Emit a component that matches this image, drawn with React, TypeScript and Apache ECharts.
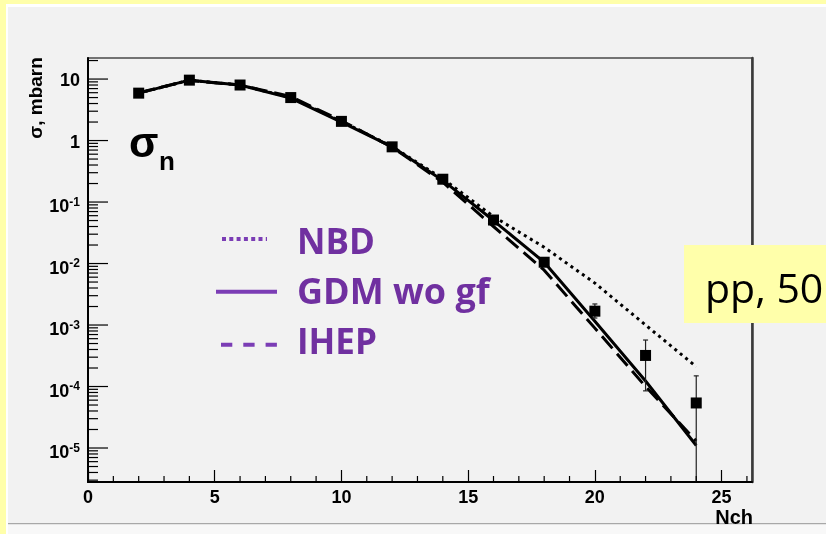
import React, { useEffect, useRef } from "react";
import * as echarts from "echarts";

// ---------- data ----------
const nchValues = [2, 4, 6, 8, 10, 12, 14, 16, 18, 20, 22, 24];
const sigmaMeasured = [5.9, 9.6, 8.0, 5.0, 2.05, 0.79, 0.235, 0.051, 0.0105, 0.00168, 0.00032, 0.000054];
const errorLow = [null, null, null, null, null, null, null, 0.046, 0.0092, 0.0013, 0.000085, 1e-9];
const errorHigh = [null, null, null, null, null, null, null, 0.056, 0.0118, 0.0022, 0.00057, 0.000149];
const nbdModel = [5.9, 9.6, 8.0, 5.0, 2.05, 0.8, 0.24, 0.058, 0.0184, 0.0048, 0.001, 0.00021];
const gdmModel = [5.9, 9.6, 8.0, 4.9, 2.0, 0.79, 0.225, 0.05, 0.0105, 0.00115, 0.000123, 0.000011];
const ihepModel = [6.0, 9.5, 8.0, 5.2, 2.1, 0.78, 0.21, 0.04, 0.0078, 0.00089, 0.0001, 0.000013];
const yLabelExponents = [-5, -4, -3, -2, -1, 0, 1];
const legendNames = ["NBD", "GDM wo gf", "IHEP"];
const yTitle = "σ, mbarn";
const xTitle = "Nch";
const plotLabelMain = "σ";
const plotLabelSub = "n";
const boxText = "pp, 50";

const X_MIN = 0;
const X_MAX = 26.2;
const Y_MIN = 2.8e-6;
const Y_MAX = 22;

const PURPLE_TEXT = "#7030A0";
const PURPLE_LINE = "#7B3DB5";
const FONT = "'Liberation Sans', Arial, sans-serif";

function buildTickData() {
  const out: number[][] = [];
  for (let v = 1; v <= 26; v++) {
    if (v % 5 !== 0 && v > X_MIN && v < X_MAX) out.push([v, Y_MIN, 0]);
  }
  for (let n = -6; n <= 1; n++) {
    for (let k = 1; k <= 9; k++) {
      const v = k * Math.pow(10, n);
      if (v >= Y_MIN && v <= Y_MAX) out.push([X_MIN, v, k === 1 ? 1 : 2]);
    }
  }
  return out;
}

const labelRich = {
  b: { fontFamily: FONT, fontWeight: "bold", fontSize: 18, color: "#000" },
  s: {
    fontFamily: FONT,
    fontWeight: "bold",
    fontSize: 12,
    color: "#000",
    verticalAlign: "bottom",
    padding: [0, 0, 9, 0],
  },
};

export default function App() {
  const ref = useRef<HTMLDivElement>(null);
  useEffect(() => {
    if (!ref.current) return;
    const chart = echarts.init(ref.current, undefined, { renderer: "svg" });

    const pairs = (arr: number[]) => nchValues.map((x, i) => [x, arr[i]]);
    const errData = nchValues
      .map((x, i) => [x, errorLow[i], errorHigh[i]])
      .filter((d) => d[1] != null);

    const option: any = {
      animation: false,
      backgroundColor: "transparent",
      grid: {
        left: 88,
        top: 58,
        right: 74,
        bottom: 52,
        show: true,
        borderColor: "#4a4a4a",
        borderWidth: 1.5,
        backgroundColor: "transparent",
      },
      xAxis: [
        {
          type: "value",
          min: X_MIN,
          max: X_MAX,
          interval: 5,
          splitLine: { show: false },
          axisLine: { onZero: false, lineStyle: { color: "#000", width: 2 } },
          axisTick: { inside: true, length: 12, lineStyle: { color: "#000", width: 1.2 } },
          minorTick: { show: false },
          axisLabel: {
            showMaxLabel: false,
            color: "#000",
            fontFamily: FONT,
            fontWeight: "bold",
            fontSize: 18,
            margin: 6,
          },
        },
      ],
      yAxis: [
        {
          type: "log",
          logBase: 10,
          min: Y_MIN,
          max: Y_MAX,
          splitLine: { show: false },
          axisLine: { lineStyle: { color: "#000", width: 2 } },
          axisTick: { show: false },
          minorTick: { show: false },
          axisLabel: { show: false },
        },
        {
          type: "value",
          position: "right",
          min: 0,
          max: 1,
          axisLine: { show: true, lineStyle: { color: "#3a3a3a", width: 2.5 } },
          axisTick: { show: false },
          axisLabel: { show: false },
          splitLine: { show: false },
        },
      ],
      series: [
        {
          name: legendNames[0],
          type: "line",
          data: pairs(nbdModel),
          symbol: "none",
          lineStyle: { color: "#000", width: 3, type: [3, 4] },
          z: 3,
        },
        {
          name: legendNames[1],
          type: "line",
          data: pairs(gdmModel),
          symbol: "none",
          lineStyle: { color: "#000", width: 3 },
          z: 3,
        },
        {
          name: legendNames[2],
          type: "line",
          data: pairs(ihepModel),
          symbol: "none",
          lineStyle: { color: "#000", width: 3, type: [16, 7] },
          z: 3,
        },
        {
          name: "errors",
          type: "custom",
          data: errData,
          encode: { x: 0, y: [1, 2] },
          z: 4,
          renderItem: (params: any, api: any) => {
            const x = api.value(0);
            const lo = api.coord([x, api.value(1)]);
            const hi = api.coord([x, api.value(2)]);
            const cs = params.coordSys;
            const bottom = cs.y + cs.height;
            const yLo = Math.min(lo[1], bottom);
            const st = { stroke: "#222", lineWidth: 1.2 };
            const children: any[] = [
              { type: "line", shape: { x1: hi[0], y1: hi[1], x2: hi[0], y2: yLo }, style: st },
              { type: "line", shape: { x1: hi[0] - 2.5, y1: hi[1], x2: hi[0] + 2.5, y2: hi[1] }, style: st },
            ];
            if (lo[1] < bottom) {
              children.push({ type: "line", shape: { x1: lo[0] - 2.5, y1: lo[1], x2: lo[0] + 2.5, y2: lo[1] }, style: st });
            }
            return { type: "group", children };
          },
        },
        {
          name: "data",
          type: "scatter",
          data: pairs(sigmaMeasured),
          symbol: "rect",
          symbolSize: 11,
          itemStyle: { color: "#000", opacity: 1 },
          z: 5,
        },
        {
          name: "ticks",
          type: "custom",
          data: buildTickData(),
          encode: { x: 0, y: 1 },
          silent: true,
          z: 6,
          renderItem: (params: any, api: any) => {
            const kind = api.value(2);
            const p = api.coord([api.value(0), api.value(1)]);
            if (kind === 0) {
              return { type: "line", shape: { x1: p[0], y1: p[1], x2: p[0], y2: p[1] - 6 }, style: { stroke: "#000", lineWidth: 1.2 } };
            }
            const len = kind === 1 ? 20 : 10;
            return { type: "line", shape: { x1: p[0], y1: p[1], x2: p[0] + len, y2: p[1] }, style: { stroke: "#000", lineWidth: 1.2 } };
          },
        },
        {
          name: "yLabels",
          type: "custom",
          data: yLabelExponents.map((e) => [X_MIN, Math.pow(10, e), e]),
          encode: { x: 0, y: 1 },
          silent: true,
          clip: false,
          z: 6,
          renderItem: (params: any, api: any) => {
            const e = api.value(2);
            const p = api.coord([api.value(0), api.value(1)]);
            let text: string;
            let dy = 1;
            if (e === 1) text = "{b|10}";
            else if (e === 0) text = "{b|1}";
            else {
              text = "{b|10}{s|" + e + "}";
              dy = 4;
            }
            return {
              type: "text",
              x: p[0] - 8,
              y: p[1] + dy,
              style: { text, rich: labelRich, align: "right", verticalAlign: "middle" },
            };
          },
        },
      ],
      graphic: [
        // page background / frame
        { type: "rect", z: -100, shape: { x: 0, y: 0, width: 826, height: 534 }, style: { fill: "#FFFFAA" } },
        { type: "rect", z: -99, shape: { x: 6, y: 4, width: 820, height: 530 }, style: { fill: "#FFFFFF" } },
        { type: "rect", z: -98, shape: { x: 8, y: 7, width: 818, height: 516 }, style: { fill: "#F2F2F2" } },
        { type: "rect", z: -97, shape: { x: 8, y: 523, width: 818, height: 1.5 }, style: { fill: "#A8A8A8" } },
        { type: "rect", z: -97, shape: { x: 8, y: 524.5, width: 818, height: 9.5 }, style: { fill: "#F8F8F8" } },
        // axis titles
        {
          type: "text",
          z: 10,
          x: 35,
          y: 98,
          rotation: Math.PI / 2,
          style: { text: yTitle, font: "bold 19px " + FONT, fill: "#000", align: "center", verticalAlign: "middle" },
        },
        {
          type: "text",
          z: 10,
          x: 753,
          y: 517,
          style: { text: xTitle, font: "bold 20px " + FONT, fill: "#000", align: "right", verticalAlign: "middle" },
        },
        // sigma_n label
        {
          type: "text",
          z: 10,
          x: 129,
          y: 142,
          style: { text: plotLabelMain, font: "bold 43px " + FONT, fill: "#000", align: "left", verticalAlign: "middle" },
        },
        {
          type: "text",
          z: 10,
          x: 159,
          y: 161,
          style: { text: plotLabelSub, font: "bold 26px " + FONT, fill: "#000", align: "left", verticalAlign: "middle" },
        },
        // legend
        {
          type: "line",
          z: 10,
          shape: { x1: 222, y1: 239, x2: 267, y2: 239 },
          style: { stroke: PURPLE_LINE, lineWidth: 4, lineDash: [4, 3.3] },
        },
        {
          type: "line",
          z: 10,
          shape: { x1: 216, y1: 291.7, x2: 277, y2: 291.7 },
          style: { stroke: PURPLE_LINE, lineWidth: 4 },
        },
        {
          type: "line",
          z: 10,
          shape: { x1: 221, y1: 344.7, x2: 277, y2: 344.7 },
          style: { stroke: PURPLE_LINE, lineWidth: 4, lineDash: [11.3, 11] },
        },
        {
          type: "text",
          z: 10,
          x: 297,
          y: 240.5,
          style: { text: legendNames[0], font: "bold 35px 'Open Sans', sans-serif", fill: PURPLE_TEXT, align: "left", verticalAlign: "middle" },
        },
        {
          type: "text",
          z: 10,
          x: 297,
          y: 290.5,
          style: { text: legendNames[1], font: "bold 36px 'Open Sans', sans-serif", fill: PURPLE_TEXT, align: "left", verticalAlign: "middle" },
        },
        {
          type: "text",
          z: 10,
          x: 297,
          y: 340.5,
          style: { text: legendNames[2], font: "bold 35px 'Open Sans', sans-serif", fill: PURPLE_TEXT, align: "left", verticalAlign: "middle" },
        },
        // energy box
        { type: "rect", z: 20, shape: { x: 684, y: 245, width: 142, height: 78 }, style: { fill: "#FFFFAA" } },
        {
          type: "text",
          z: 21,
          x: 705,
          y: 287,
          style: { text: boxText, font: "41px 'Open Sans', sans-serif", fill: "#000", align: "left", verticalAlign: "middle" },
        },
      ],
    };

    chart.setOption(option);
    return () => chart.dispose();
  }, []);

  return (
    <div
      ref={ref}
      style={{ position: "fixed", left: 0, top: 0, width: 826, height: 534 }}
    />
  );
}
